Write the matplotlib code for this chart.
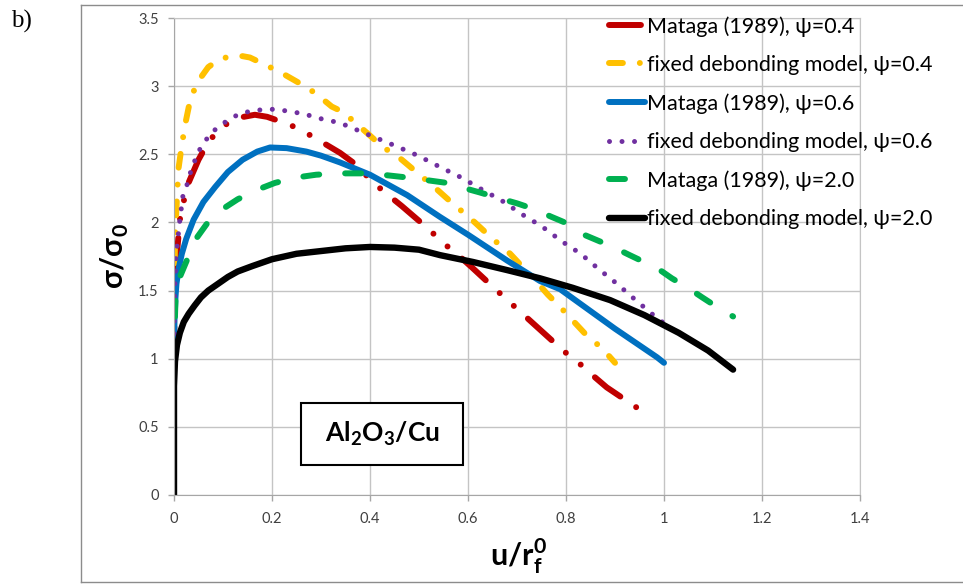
import matplotlib
matplotlib.use("Agg")
import matplotlib.pyplot as plt
from matplotlib.patches import Rectangle
from matplotlib.lines import Line2D

plt.rcParams["font.family"] = ["Lato", "DejaVu Sans"]
plt.rcParams["mathtext.fontset"] = "custom"
plt.rcParams["mathtext.rm"] = "Lato"
plt.rcParams["mathtext.bf"] = "Lato:bold"
plt.rcParams["lines.scale_dashes"] = False

# Curves (u/rf0, sigma/sigma0)
red_x = [0, 0.001, 0.006, 0.012, 0.026, 0.05, 0.07, 0.094, 0.115, 0.135, 0.165, 0.19, 0.21,
         0.247, 0.283, 0.339, 0.373, 0.404, 0.434, 0.465, 0.52, 0.549, 0.577, 0.608, 0.659,
         0.794, 0.829, 0.857, 0.883, 0.945, 0.973]
red_y = [1.0, 1.4, 1.77, 2.02, 2.26, 2.46, 2.59, 2.69, 2.74, 2.77, 2.79, 2.775, 2.75,
         2.70, 2.63, 2.51, 2.42, 2.30, 2.21, 2.12, 1.95, 1.85, 1.77, 1.67, 1.50,
         1.06, 0.96, 0.87, 0.79, 0.64, 0.56]

yellow_x = [0, 0.001, 0.002, 0.009, 0.016, 0.024, 0.032, 0.046, 0.07, 0.09, 0.114, 0.14, 0.155,
            0.19, 0.223, 0.257, 0.288, 0.322, 0.345, 0.396, 0.427, 0.455, 0.488, 0.528, 0.559,
            0.614, 0.647, 0.686, 0.741, 0.763, 0.788, 0.845, 0.873, 0.9]
yellow_y = [1.0, 1.5, 1.89, 2.39, 2.57, 2.74, 2.88, 3.02, 3.14, 3.19, 3.22, 3.22, 3.21,
            3.15, 3.09, 3.02, 2.95, 2.85, 2.81, 2.65, 2.55, 2.49, 2.39, 2.27, 2.17,
            2.0, 1.89, 1.77, 1.56, 1.47, 1.38, 1.16, 1.08, 0.97]

blue_x = [0, 0.001, 0.003, 0.005, 0.01, 0.016, 0.025, 0.04, 0.06, 0.084, 0.11, 0.14, 0.17,
          0.196, 0.23, 0.27, 0.3, 0.339, 0.4, 0.476, 0.543, 0.6, 0.68, 0.747, 0.788, 0.9,
          0.986, 1.0]
blue_y = [1.0, 1.28, 1.45, 1.55, 1.67, 1.77, 1.88, 2.02, 2.15, 2.26, 2.37, 2.46, 2.52,
          2.55, 2.545, 2.52, 2.49, 2.44, 2.35, 2.20, 2.04, 1.91, 1.72, 1.57, 1.51, 1.22,
          1.01, 0.97]

purple_x = [0, 0.001, 0.004, 0.012, 0.018, 0.026, 0.033, 0.041, 0.05, 0.062, 0.077, 0.094,
            0.114, 0.136, 0.162, 0.188, 0.213, 0.239, 0.264, 0.288, 0.314, 0.339, 0.406,
            0.453, 0.498, 0.541, 0.586, 0.629, 0.669, 0.71, 0.751, 0.792, 0.83, 0.866,
            0.904, 0.939, 0.975, 1.0]
purple_y = [1.0, 1.48, 1.75, 2.02, 2.19, 2.27, 2.36, 2.44, 2.52, 2.59, 2.66, 2.71,
            2.76, 2.80, 2.82, 2.83, 2.83, 2.81, 2.80, 2.77, 2.75, 2.73, 2.63,
            2.56, 2.49, 2.41, 2.33, 2.24, 2.16, 2.06, 1.97, 1.86, 1.77, 1.66,
            1.55, 1.44, 1.33, 1.26]

green_x = [0, 0.001, 0.003, 0.012, 0.033, 0.047, 0.073, 0.1, 0.13, 0.17, 0.206, 0.25, 0.29,
           0.335, 0.4, 0.475, 0.516, 0.557, 0.594, 0.624, 0.661, 0.70, 0.733, 0.771, 0.804,
           0.83, 0.896, 0.93, 0.965, 0.996, 1.016, 1.049, 1.078, 1.108, 1.141]
green_y = [1.0, 1.2, 1.43, 1.6, 1.78, 1.89, 2.02, 2.1, 2.17, 2.24, 2.29, 2.33, 2.35,
           2.36, 2.36, 2.33, 2.31, 2.29, 2.25, 2.22, 2.18, 2.14, 2.10, 2.04, 1.99,
           1.92, 1.82, 1.76, 1.70, 1.64, 1.59, 1.52, 1.45, 1.38, 1.31]

black_x = [0, 0.0, 0.002, 0.006, 0.012, 0.02, 0.03, 0.042, 0.055, 0.07, 0.09, 0.11, 0.13,
           0.16, 0.2, 0.25, 0.3, 0.35, 0.4, 0.45, 0.5, 0.543, 0.61, 0.68, 0.747, 0.814,
           0.89, 0.96, 1.03, 1.09, 1.141]
black_y = [0, 0.8, 0.98, 1.1, 1.19, 1.27, 1.33, 1.39, 1.45, 1.50, 1.55, 1.60, 1.64,
           1.68, 1.73, 1.77, 1.79, 1.81, 1.82, 1.815, 1.80, 1.76, 1.71, 1.65, 1.59, 1.52,
           1.43, 1.32, 1.19, 1.06, 0.92]

labels = [
    "Mataga (1989), ψ=0.4",
    "fixed debonding model, ψ=0.4",
    "Mataga (1989), ψ=0.6",
    "fixed debonding model, ψ=0.6",
    "Mataga (1989), ψ=2.0",
    "fixed debonding model, ψ=2.0",
]
x_ticks = [0, 0.2, 0.4, 0.6, 0.8, 1.0, 1.2, 1.4]
x_tick_labels = ["0", "0.2", "0.4", "0.6", "0.8", "1", "1.2", "1.4"]
y_ticks = [0, 0.5, 1.0, 1.5, 2.0, 2.5, 3.0, 3.5]
y_tick_labels = ["0", "0.5", "1", "1.5", "2", "2.5", "3", "3.5"]

fig = plt.figure(figsize=(9.63, 5.84), dpi=100)
ax = fig.add_axes([174 / 963, 1 - 495 / 584, (860 - 174) / 963, (495 - 18) / 584])

# outer frame of the figure panel
frame = dict(transform=fig.transFigure, color="#8c8c8c", lw=1.0)
fig.add_artist(Line2D([81 / 963, 81 / 963], [1 - 582 / 584, 1 - 5 / 584], **frame))
fig.add_artist(Line2D([81 / 963, 1.0], [1 - 5 / 584, 1 - 5 / 584], **frame))
fig.add_artist(Line2D([81 / 963, 1.0], [1 - 582 / 584, 1 - 582 / 584], **frame))

common = dict(solid_capstyle="round", dash_capstyle="round", solid_joinstyle="round")

ax.plot(red_x, red_y, color="#C00000", lw=4.3,
        dashes=(23, 13.7, 0.01, 13.7, 0.01, 13.7), label=labels[0], **common)
ax.plot(yellow_x, yellow_y, color="#FFC000", lw=4.3,
        dashes=(10, 12.2, 0.01, 12.2), label=labels[1], **common)
ax.plot(blue_x, blue_y, color="#0070C0", lw=4.3, label=labels[2], **common)
ax.plot(purple_x, purple_y, color="#7030A0", lw=3.6,
        dashes=(0.01, 9), label=labels[3], **common)
ax.plot(green_x, green_y, color="#00B050", lw=4.3,
        dashes=(11.5, 18.7), label=labels[4], **common)
ax.plot(black_x, black_y, color="black", lw=4.6, label=labels[5], **common)

ax.set_xlim(0, 1.4)
ax.set_ylim(0, 3.5)
ax.set_xticks(x_ticks)
ax.set_xticklabels(x_tick_labels)
ax.set_yticks(y_ticks)
ax.set_yticklabels(y_tick_labels)
ax.grid(True, color="#c4c4c4", lw=1.0)
ax.set_axisbelow(True)
for side in ["top", "right"]:
    ax.spines[side].set_color("#c4c4c4")
for side in ["left", "bottom"]:
    ax.spines[side].set_color("#a6a6a6")
ax.tick_params(axis="both", colors="#a6a6a6", labelcolor="#404040", labelsize=10.5,
               length=4, width=1.0)
ax.tick_params(axis="x", pad=8)
ax.tick_params(axis="y", pad=7)

# axis titles
fig.text(518 / 963, 1 - 556 / 584, r"u/r$_\mathbf{f}^\mathbf{0}$", ha="center", va="center",
         fontsize=22, fontweight="bold")
fig.text(115 / 963, 1 - 256 / 584, r"σ/σ$_\mathbf{0}$", ha="center", va="center",
         fontsize=22, fontweight="bold", rotation=90)
fig.text(11 / 963, 1 - 21 / 584, "b)", ha="left", va="center",
         fontsize=18, family="Liberation Serif")

# material label box
ax.add_patch(Rectangle((0.259, 0.22), 0.331, 0.455, facecolor="white",
                       edgecolor="black", lw=1.5, zorder=5))
ax.text(0.4245, 0.447, r"Al$_\mathbf{2}$O$_\mathbf{3}$/Cu", ha="center", va="center",
        fontsize=19, fontweight="bold", zorder=6)

ax.legend(loc="upper left", bbox_to_anchor=(609 / 963, 1 - 16 / 584),
          bbox_transform=fig.transFigure, frameon=False, fontsize=15.5,
          handlelength=1.65, handletextpad=0.1, labelspacing=0.85, borderpad=0,
          borderaxespad=0)

fig.savefig("out.png", dpi=100)
